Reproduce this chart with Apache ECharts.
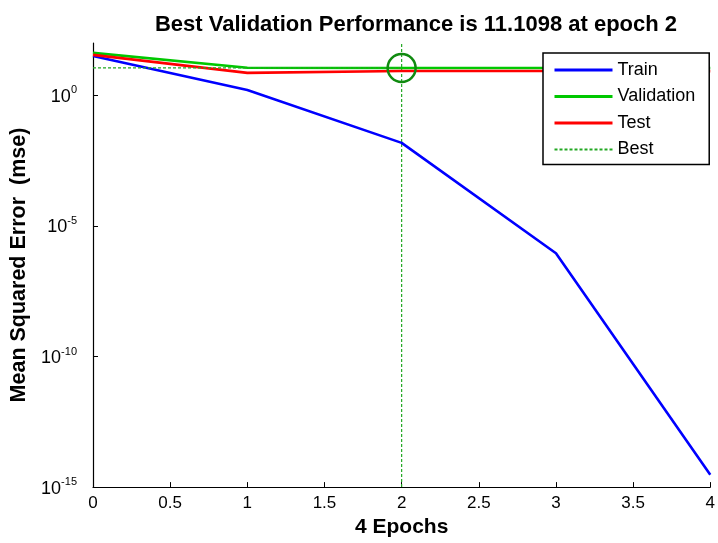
<!DOCTYPE html>
<html>
<head>
<meta charset="utf-8">
<script src="https://cdn.jsdelivr.net/npm/echarts@6/dist/echarts.min.js"></script>
<style>html,body{margin:0;padding:0;background:#fff;}#c{width:718px;height:543px;}</style>
</head>
<body>
<div id="c"></div>
<script>
const epochs = [0, 1, 2, 3, 4];
const trainMSE = [32, 1.6, 0.015, 9e-7, 3e-15];
const validationMSE = [42, 11.3, 11.1098, 11.11, 11.11];
const testMSE = [35, 7.2, 8.5, 8.5, 8.4];
const bestEpoch = 2;
const bestValue = 11.1098;
const xTicks = [0, 0.5, 1, 1.5, 2, 2.5, 3, 3.5, 4];
const yTickExponents = [-15, -10, -5, 0];
const yMin = 1e-15, yMax = 100;

const font = 'Liberation Sans, Arial, sans-serif';
const pairs = arr => epochs.map((e, i) => [e, arr[i]]);
const dotted = {color: '#22a822', width: 1.2, type: [3, 2]};

const chart = echarts.init(document.getElementById('c'));
chart.setOption({
  animation: false,
  backgroundColor: '#fff',
  title: {
    text: 'Best Validation Performance is 11.1098 at epoch 2',
    left: 411, top: 9, textAlign: 'center',
    textStyle: {fontFamily: font, fontWeight: 'bold', fontSize: 22, color: '#000'}
  },
  grid: {left: 93, right: 3, top: 43, bottom: 49, containLabel: false},
  legend: {
    orient: 'vertical', left: 543, top: 53, width: 166, z: 20,
    data: [
      {name: 'Train', lineStyle: {width: 3}},
      {name: 'Validation', lineStyle: {width: 3}},
      {name: 'Test', lineStyle: {width: 3}},
      {name: 'Best'}
    ],
    backgroundColor: '#fff', borderColor: '#000', borderWidth: 1.5,
    padding: [8, 14, 6, 10], itemGap: 8.5, itemWidth: 58, itemHeight: 16,
    itemStyle: {opacity: 0},
    textStyle: {fontFamily: font, fontSize: 18, color: '#000'}
  },
  xAxis: {
    type: 'value', min: 0, max: 4, interval: 0.5,
    name: '4 Epochs', nameLocation: 'middle', nameGap: 25,
    nameTextStyle: {fontFamily: font, fontWeight: 'bold', fontSize: 21, color: '#000'},
    axisLine: {lineStyle: {color: '#000', width: 1.2}},
    axisTick: {inside: true, length: 5, lineStyle: {color: '#000'}},
    axisLabel: {fontFamily: font, fontSize: 17, color: '#000', margin: 8,
      formatter: v => xTicks.includes(v) ? String(v) : ''},
    splitLine: {show: false}
  },
  yAxis: {
    type: 'log', logBase: 10, min: yMin, max: yMax, interval: 5,
    name: 'Mean Squared Error  (mse)', nameLocation: 'middle', nameGap: 58,
    nameTextStyle: {fontFamily: font, fontWeight: 'bold', fontSize: 21.5, color: '#000'},
    axisLine: {show: true, lineStyle: {color: '#000', width: 1.2}},
    axisTick: {inside: true, length: 5, lineStyle: {color: '#000'}},
    minorTick: {show: false},
    axisLabel: {
      fontFamily: font, color: '#000', margin: 16, showMaxLabel: false,
      formatter: v => {
        const e = Math.round(Math.log10(v));
        return yTickExponents.includes(e) ? '{b|10}{s|' + e + '}' : '';
      },
      rich: {
        b: {fontFamily: font, fontSize: 18, color: '#000', verticalAlign: 'bottom'},
        s: {fontFamily: font, fontSize: 11, color: '#000', verticalAlign: 'top', padding: [0, 0, 10, 0]}
      }
    },
    splitLine: {show: false}
  },
  series: [
    {name: 'Train', type: 'line', data: pairs(trainMSE), symbol: 'none',
      lineStyle: {color: '#0000ff', width: 2.6}, itemStyle: {color: '#0000ff'}, z: 3},
    {name: 'Validation', type: 'line', data: pairs(validationMSE), symbol: 'none',
      lineStyle: {color: '#00c800', width: 2.6}, itemStyle: {color: '#00c800'}, z: 3},
    {name: 'Test', type: 'line', data: pairs(testMSE), symbol: 'none',
      lineStyle: {color: '#ff0000', width: 2.6}, itemStyle: {color: '#ff0000'}, z: 3},
    {name: 'Best', type: 'line', data: [[0, bestValue], [bestEpoch, bestValue]], symbol: 'none',
      lineStyle: dotted, itemStyle: {color: '#22a822'}, z: 3},
    {name: 'BestVertical', type: 'line', data: [[bestEpoch, yMin], [bestEpoch, yMax]], symbol: 'none',
      lineStyle: dotted, itemStyle: {color: '#22a822'}, z: 2},
    {name: 'BestPoint', type: 'scatter', data: [[bestEpoch, bestValue]],
      symbol: 'circle', symbolSize: 28,
      itemStyle: {color: 'rgba(0,0,0,0)', borderColor: '#108a10', borderWidth: 2.5, opacity: 1}, z: 3}
  ]
});
</script>
</body>
</html>
